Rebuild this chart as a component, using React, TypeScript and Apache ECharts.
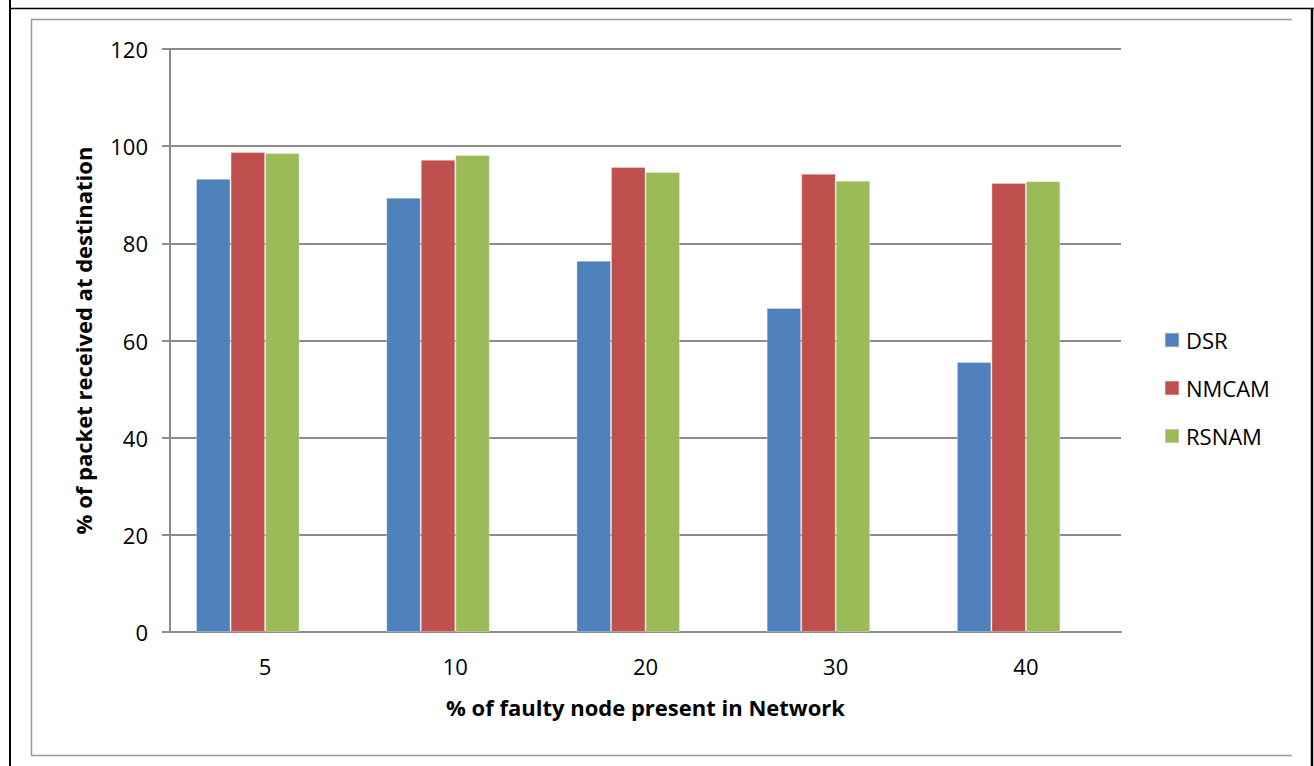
import React, { useEffect, useRef } from "react";
import * as echarts from "echarts";

const categories = ["5", "10", "20", "30", "40"];
const dsr = [93.3, 89.4, 76.4, 66.7, 55.6];
const nmcam = [98.8, 97.2, 95.7, 94.3, 92.4];
const rsnam = [98.6, 98.2, 94.7, 92.9, 92.8];
const emptySeries = [null, null, null, null, null];
const yTicks = [0, 20, 40, 60, 80, 100, 120];

const FONT = "'Open Sans', 'Liberation Sans', sans-serif";

export default function App() {
  const ref = useRef<HTMLDivElement>(null);
  useEffect(() => {
    document.body.style.margin = "0";
    const chart = echarts.init(ref.current!, null, { renderer: "svg" });
    const barStyle = (c: string) => ({ color: c, borderColor: "rgba(255,255,255,0.3)", borderWidth: 1 });
    const gapOpts = { barGap: "0%", barCategoryGap: "27.4%" };
    chart.setOption({
      animation: false,
      backgroundColor: "#ffffff",
      textStyle: { fontFamily: FONT },
      graphic: [
        { type: "line", shape: { x1: 10, y1: 0, x2: 10, y2: 766 }, style: { stroke: "#000", lineWidth: 2 } },
        { type: "line", shape: { x1: 9, y1: 8.5, x2: 1314, y2: 8.5 }, style: { stroke: "#000", lineWidth: 1.5 } },
        { type: "line", shape: { x1: 1312, y1: 8, x2: 1312, y2: 766 }, style: { stroke: "#000", lineWidth: 2.5 } },
        { type: "polyline", shape: { points: [[1292, 19.5], [31.5, 19.5], [31.5, 755.5], [1292, 755.5]] }, style: { stroke: "#9a9a9a", lineWidth: 1.5, fill: "none" } },
      ],
      grid: { left: 170, right: 193, top: 49, bottom: 134, containLabel: false },
      legend: {
        orient: "vertical",
        left: 1159,
        top: 324,
        itemWidth: 14,
        itemHeight: 14,
        itemGap: 26,
        icon: "rect",
        textStyle: { fontFamily: FONT, fontSize: 22, color: "#000", padding: [0, 0, 0, 2] },
        data: ["DSR", "NMCAM", "RSNAM"],
      },
      xAxis: {
        type: "category",
        data: categories,
        name: "% of faulty node present in Network",
        nameLocation: "middle",
        nameGap: 64,
        nameTextStyle: { fontFamily: FONT, fontSize: 22, fontWeight: "bold", color: "#000" },
        axisLine: { show: true, lineStyle: { color: "#8c8c8c", width: 2 } },
        axisTick: { show: false },
        axisLabel: { fontFamily: FONT, fontSize: 22, color: "#000", margin: 23 },
      },
      yAxis: {
        type: "value",
        min: 0,
        max: 120,
        interval: 20,
        name: "% of packet received at destination",
        nameLocation: "middle",
        nameGap: 76,
        nameTextStyle: { fontFamily: FONT, fontSize: 22, fontWeight: "bold", color: "#000" },
        axisLine: { show: true, lineStyle: { color: "#8c8c8c", width: 2 } },
        axisTick: { show: true, length: 8, lineStyle: { color: "#8c8c8c", width: 2 } },
        axisLabel: {
          fontFamily: FONT,
          fontSize: 22,
          color: "#000",
          margin: 22,
          formatter: (v: number) => (yTicks.includes(v) ? String(v) : ""),
        },
        splitLine: { show: true, lineStyle: { color: "#8c8c8c", width: 2 } },
      },
      series: [
        { name: "DSR", type: "bar", data: dsr, itemStyle: barStyle("#4F81BD"), ...gapOpts },
        { name: "NMCAM", type: "bar", data: nmcam, itemStyle: barStyle("#C0504D"), ...gapOpts },
        { name: "RSNAM", type: "bar", data: rsnam, itemStyle: barStyle("#9BBB59"), ...gapOpts },
        { name: "blank", type: "bar", data: emptySeries, itemStyle: { color: "transparent" }, ...gapOpts },
      ],
    });
    return () => chart.dispose();
  }, []);
  return <div ref={ref} style={{ position: "absolute", left: 0, top: 0, width: 1314, height: 766 }} />;
}
